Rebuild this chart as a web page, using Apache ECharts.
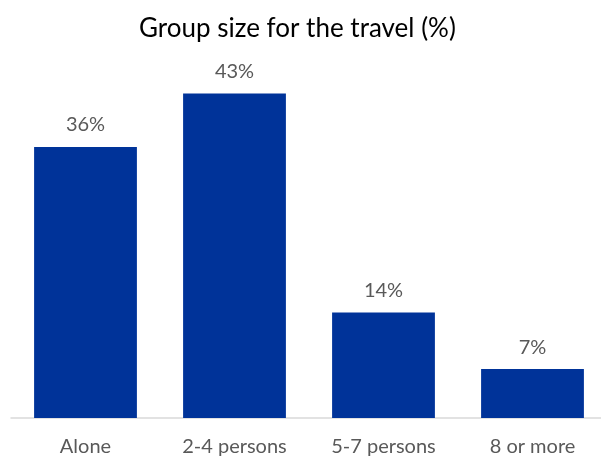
<!DOCTYPE html>
<html lang="en">
<head>
  <meta charset="UTF-8">
  <title>Group size for the travel</title>
  <style>
    html, body { margin: 0; padding: 0; background: #fff; overflow: hidden; }
  </style>
</head>
<body>
  <!-- a bit wider than the window: the last bar in the source runs past the right edge -->
  <div id="chart" style="width: 612px; height: 457px;"></div>
  <script src="https://cdn.jsdelivr.net/npm/echarts@6/dist/echarts.min.js"></script>
  <script>
    const categories = ["Alone", "2-4 persons", "5-7 persons", "8 or more"];
    const shares = [36, 43.1, 14, 6.5];

    const chart = echarts.init(document.getElementById("chart"), null, { renderer: "canvas" });

    const font = "Lato, 'Open Sans', sans-serif";

    chart.setOption({
      animation: false,
      title: {
        text: "Group size for the travel (%)",
        left: 134,
        top: 11,
        textStyle: {
          fontFamily: font,
          fontSize: 26,
          fontWeight: "normal",
          color: "#000"
        }
      },
      grid: {
        left: 11,
        right: 5,
        top: 41.5,
        bottom: 39
      },
      xAxis: {
        type: "category",
        data: categories,
        axisLine: { lineStyle: { color: "#d9d9d9", width: 1.5 } },
        axisTick: { show: false },
        axisLabel: {
          margin: 19,
          fontFamily: font,
          fontSize: 20,
          color: "#595959"
        }
      },
      yAxis: {
        type: "value",
        min: 0,
        max: 50,
        show: false,
        splitLine: { show: false }
      },
      series: [
        {
          type: "bar",
          data: shares,
          barCategoryGap: "31%",
          itemStyle: { color: "#003399" },
          label: {
            show: true,
            position: "top",
            distance: 12,
            fontFamily: font,
            fontSize: 20,
            color: "#595959",
            formatter: (d) => Math.round(d.value) + "%"
          }
        }
      ]
    });
  </script>
</body>
</html>
